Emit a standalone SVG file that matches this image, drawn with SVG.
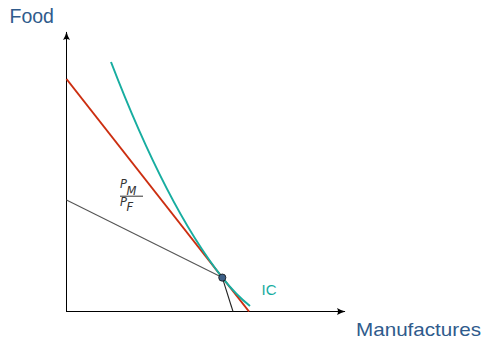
<svg xmlns="http://www.w3.org/2000/svg" width="485" height="338" viewBox="0 0 485 338">
<style>
.lbl{font-family:"Liberation Sans","DejaVu Sans",sans-serif;fill:#2f5b8c}
.math{font-family:"DejaVu Sans","Liberation Sans",sans-serif;font-style:italic;fill:#333}
.axis{stroke:#000;stroke-width:1;fill:none}
</style>
<defs>
<marker id="arr" viewBox="0 0 10 10" refX="9" refY="5" markerWidth="10" markerHeight="10" markerUnits="userSpaceOnUse" orient="auto">
<path d="M1,1.5 Q5,4 9.5,5 Q5,6 1,8.5 Q3,5 1,1.5Z" fill="#000"/>
</marker>
</defs>
<rect width="485" height="338" fill="#fff"/>
<g id="connectors">
<line class="axis" x1="66.5" y1="311.5" x2="66.5" y2="32" marker-end="url(#arr)"/>
<line class="axis" x1="66" y1="311.5" x2="345" y2="311.5" marker-end="url(#arr)"/>
<line id="gray-line" x1="66.5" y1="200" x2="222.3" y2="277.6" stroke="#555" stroke-width="1.1"/>
<line id="drop-line" x1="222.3" y1="277.6" x2="233" y2="311.5" stroke="#222" stroke-width="1.1"/>
<line id="budget" x1="66.5" y1="79" x2="249" y2="311.5" stroke="#cc2e10" stroke-width="2"/>
<path id="ic-curve" d="M111,62 Q166.6,206.6 222.3,277.6 Q236,295 250,306" fill="none" stroke="#17ada0" stroke-width="2"/>
</g>
<g id="point">
<circle cx="222.3" cy="277.6" r="3.6" fill="#3d5f86" stroke="#111" stroke-width="0.8"/>
</g>
<g id="food-label"><text class="lbl" x="9.5" y="22.5" font-size="19.5">Food</text></g>
<g id="manufactures-label"><text class="lbl" x="356" y="335.5" font-size="19" textLength="125" lengthAdjust="spacingAndGlyphs">Manufactures</text></g>
<g id="ic-label"><text x="261.5" y="294.5" font-family="Liberation Sans, DejaVu Sans, sans-serif" font-size="15" fill="#17ada0">IC</text></g>
<g id="ratio-label">
<text class="math" x="120" y="187.5" font-size="11.5">P</text>
<text class="math" x="126.5" y="195" font-size="11.5">M</text>
<line x1="120" y1="196.2" x2="143" y2="196.2" stroke="#333" stroke-width="1"/>
<text class="math" x="120" y="205.5" font-size="11.5">P</text>
<text class="math" x="126.5" y="210.5" font-size="11.5">F</text>
</g>
</svg>
